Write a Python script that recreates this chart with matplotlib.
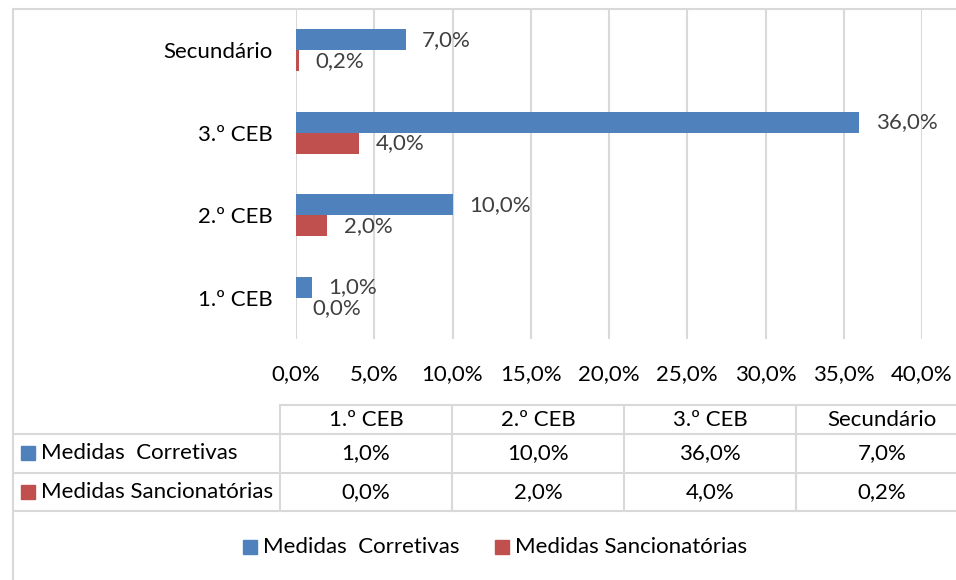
import matplotlib.pyplot as plt
from matplotlib.ticker import FuncFormatter
from matplotlib.patches import Rectangle
from matplotlib.lines import Line2D

plt.rcParams['font.family'] = ['Lato', 'DejaVu Sans']

# school levels and the two series (percent)
niveis = ['1.º CEB', '2.º CEB', '3.º CEB', 'Secundário']
corretivas = [1.0, 10.0, 36.0, 7.0]
sancionatorias = [0.0, 2.0, 4.0, 0.2]
series_nomes = ['Medidas  Corretivas', 'Medidas Sancionatórias']
cores = ['#4F81BD', '#C0504D']

W, H = 956, 580
grid_cor = '#D9D9D9'
fs = 16


def pt(v):
    # comma decimal like the original workbook
    return f'{v:.1f}'.replace('.', ',') + '%'


def fx(x):
    return x / W


def fy(y):
    return 1 - y / H


fig = plt.figure(figsize=(W / 100, H / 100), dpi=100)

# outer chart frame
fig.add_artist(Line2D([fx(13), fx(13)], [fy(9), 0], color=grid_cor, lw=1.5))
fig.add_artist(Line2D([fx(13), 1], [fy(9), fy(9)], color=grid_cor, lw=1.5))

ax = fig.add_axes([fx(296), fy(339), (922 - 296) / W, (339 - 9) / H])

h = 0.255
pos = list(range(len(niveis)))
ax.barh([p + h / 2 for p in pos], corretivas, height=h, color=cores[0])
ax.barh([p - h / 2 for p in pos], sancionatorias, height=h, color=cores[1])

for p, c, s in zip(pos, corretivas, sancionatorias):
    ax.annotate(pt(c), (c, p + h / 2), xytext=(12, 0), textcoords='offset points',
                va='center', ha='left', fontsize=fs, color='#404040')
    ax.annotate(pt(s), (s, p - h / 2), xytext=(12, 0), textcoords='offset points',
                va='center', ha='left', fontsize=fs, color='#404040')

ax.set_xlim(0, 40)
ax.set_ylim(-0.5, 3.5)
ax.set_xticks(range(0, 41, 5))
ax.xaxis.set_major_formatter(FuncFormatter(lambda v, _: pt(v)))
ax.set_yticks(pos)
ax.set_yticklabels(niveis)
ax.tick_params(axis='x', length=0, pad=18, labelsize=fs)
ax.tick_params(axis='y', length=0, pad=17, labelsize=fs)
ax.grid(axis='x', color=grid_cor, lw=1.5)
ax.set_axisbelow(True)
for s in ax.spines.values():
    s.set_visible(False)

# data table under the chart
col_x = [280, 452, 624, 796, 968]
row_y = [405, 434, 473, 511]
fig.add_artist(Line2D([fx(280), 1], [fy(405), fy(405)], color=grid_cor, lw=1.5))
for y in row_y[1:]:
    fig.add_artist(Line2D([fx(13), 1], [fy(y), fy(y)], color=grid_cor, lw=1.5))
for x in col_x[:-1]:
    fig.add_artist(Line2D([fx(x), fx(x)], [fy(405), fy(511)], color=grid_cor, lw=1.5))

for i, nome in enumerate(niveis):
    cx = (col_x[i] + col_x[i + 1]) / 2
    fig.text(fx(cx), fy(420), nome, ha='center', va='center', fontsize=fs)
    fig.text(fx(cx), fy(453), pt(corretivas[i]), ha='center', va='center', fontsize=fs)
    fig.text(fx(cx), fy(492), pt(sancionatorias[i]), ha='center', va='center', fontsize=fs)

for nome, cor, y in zip(series_nomes, cores, [453, 492]):
    fig.add_artist(Rectangle((fx(21), fy(y + 7)), 14 / W, 14 / H, color=cor))
    fig.text(fx(41), fy(y), nome, ha='left', va='center', fontsize=fs)

# legend along the bottom
for nome, cor, x in zip(series_nomes, cores, [243, 495]):
    fig.add_artist(Rectangle((fx(x), fy(554)), 14 / W, 14 / H, color=cor))
    fig.text(fx(x + 20), fy(547), nome, ha='left', va='center', fontsize=fs)

fig.savefig('out.png', dpi=100)
